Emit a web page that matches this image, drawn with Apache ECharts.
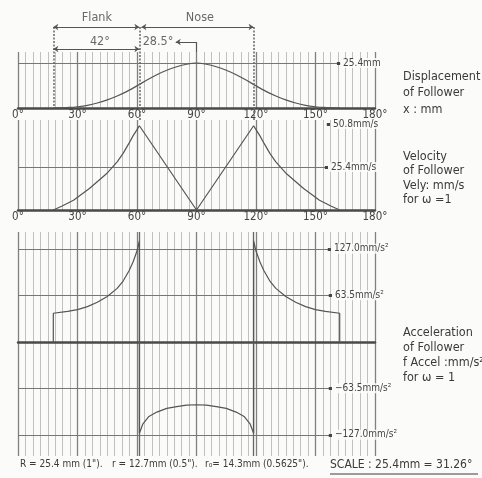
<!DOCTYPE html>
<html><head><meta charset="utf-8">
<script src="https://cdn.jsdelivr.net/npm/echarts@6/dist/echarts.min.js"></script>
<style>html,body{margin:0;padding:0;background:#fbfbfa;}#c{width:482px;height:478px;}</style>
</head><body><div id="c"></div>
<script>
// ---- data ----
const degTicks = [0, 30, 60, 90, 120, 150, 180];
const degLabels = ['0°', '30°', '60°', '90°', '120°', '150°', '180°'];

const flankStart = 17.8, noseStart = 61.2, noseTop = 90, noseEnd = 118.8, flankEnd = 162.2;

const dispDeg = [17.8, 22, 26, 30, 35, 40, 45, 50, 55, 60, 65, 70, 75, 80, 85, 90, 95, 100, 105, 110, 115, 120, 125, 130, 135, 140, 145, 150, 154, 158, 162.2];
const dispMm  = [0, 0.1, 0.3, 0.7, 1.5, 2.8, 4.6, 6.8, 9.4, 12.5, 15.8, 18.8, 21.3, 23.3, 24.7, 25.4, 24.7, 23.3, 21.3, 18.8, 15.8, 12.5, 9.4, 6.8, 4.6, 2.8, 1.5, 0.7, 0.3, 0.1, 0];

const velDeg = [17.8, 22, 28, 36, 44.6, 50, 53, 56, 58, 60, 61.2, 90, 118.8, 120, 122, 124, 127, 130, 135.4, 144, 152, 158, 162.2];
const velMm  = [0, 2.2, 5.8, 12.7, 21.4, 28.5, 33.5, 39.5, 43.8, 47.5, 49.8, 0, 49.8, 47.5, 43.8, 39.5, 33.5, 28.5, 21.4, 12.7, 5.8, 2.2, 0];

const accDeg = [17.8, 17.8, 25, 30, 35, 40, 45, 50, 53, 56, 58, 60, 61.2, 61.2, 63, 66, 70, 75, 80, 85, 90, 95, 100, 105, 110, 114, 117, 118.8, 118.8, 120, 122, 124, 127, 130, 135, 140, 145, 150, 155, 162.2, 162.2];
const accMm  = [0, 39, 41.5, 44, 48, 54, 62, 73, 83, 97, 109, 124, 138, -125, -112, -102, -96, -91, -88.5, -86.5, -86, -86.5, -88.5, -91, -96, -102, -112, -125, 138, 124, 109, 97, 83, 73, 62, 54, 48, 44, 41.5, 39, 0];

const dispLevels = [25.4];
const dispLevelLabels = ['25.4mm'];
const velLevels = [50.8, 25.4];
const velLevelLabels = ['50.8mm/s', '25.4mm/s'];
const accLevels = [127, 63.5, -63.5, -127];
const accLevelLabels = ['127.0mm/s²', '63.5mm/s²', '−63.5mm/s²', '−127.0mm/s²'];

const dispTitle = ['Displacement', 'of Follower', 'x : mm'];
const velTitle = ['Velocity', 'of Follower', 'Vely: mm/s', 'for ω =1'];
const accTitle = ['Acceleration', 'of Follower', 'f Accel :mm/s²', 'for ω = 1'];

const footTexts = ['R = 25.4 mm (1").', 'r = 12.7mm (0.5").', 'r₀= 14.3mm (0.5625").', 'SCALE : 25.4mm = 31.26°'];

// ---- layout / style ----
const FONT = "'DejaVu Sans Condensed', 'Liberation Sans Narrow', 'DejaVu Sans', sans-serif";
const INK = '#4a4a4a';
const G = { left: 18, width: 357 };

function zip(a, b) { return a.map((v, i) => [v, b[i]]); }

function xAx(gi, labels) {
  return {
    type: 'value', gridIndex: gi, min: 0, max: 180, interval: 30,
    axisLine: { show: true, onZero: true, lineStyle: { color: INK, width: 2.5 } },
    axisTick: { show: false },
    axisLabel: { show: labels, margin: 1, fontSize: 11.5, color: '#444', fontFamily: FONT,
      showMinLabel: true, showMaxLabel: true,
      formatter: v => { const i = degTicks.indexOf(v); return i >= 0 ? degLabels[i] : ''; } },
    splitLine: { show: true, lineStyle: { color: '#808080', width: 1.3 } },
    minorTick: { show: false, splitNumber: 8 },
    minorSplitLine: { show: true, lineStyle: { color: '#c0c0c0', width: 1 } }
  };
}
function yAx(gi, min, max) {
  return { type: 'value', gridIndex: gi, min: min, max: max, show: false, splitLine: { show: false } };
}
function levelMarks(levels, labels, endDeg, dashOnly) {
  const data = [];
  levels.forEach((lev, i) => {
    if (!(dashOnly && dashOnly[i])) {
      data.push([{ coord: [0, lev], lineStyle: { color: '#777', width: 1, type: 'solid' }, label: { show: false } }, { coord: [endDeg[i], lev] }]);
    }
    data.push([{ coord: [endDeg[i] - 1.6, lev], lineStyle: { color: '#444', width: 3, type: 'solid' },
      label: { show: true, position: 'end', distance: 2, formatter: labels[i], fontSize: 10, fontFamily: FONT, color: '#444',
        backgroundColor: 'rgba(251,251,250,0.85)', padding: [0, 1] } }, { coord: [endDeg[i], lev] }]);
  });
  return { silent: true, symbol: 'none', animation: false, lineStyle: { type: 'solid' }, data: data };
}
const curveStyle = { color: '#555', width: 1.2 };

const option = {
  backgroundColor: '#fbfbfa',
  animation: false,
  grid: [
    { left: G.left, width: G.width, top: 52, height: 56 },
    { left: G.left, width: G.width, top: 120, height: 90 },
    { left: G.left, width: G.width, top: 232, height: 224 },
    { left: G.left, width: G.width, top: 12, height: 110 }
  ],
  xAxis: [xAx(0, true), xAx(1, true), xAx(2, false),
    { type: 'value', gridIndex: 3, min: 0, max: 180, show: false }],
  yAxis: [yAx(0, 0, 31.6), yAx(1, 0, 53.2), yAx(2, -156, 150),
    { type: 'value', gridIndex: 3, min: 0, max: 110, inverse: true, show: false }],
  series: [
    { type: 'line', xAxisIndex: 0, yAxisIndex: 0, data: zip(dispDeg, dispMm), smooth: 0.3,
      symbol: 'none', lineStyle: curveStyle, z: 5,
      markLine: levelMarks(dispLevels, dispLevelLabels, [162.4]) },
    { type: 'line', xAxisIndex: 1, yAxisIndex: 1, data: zip(velDeg, velMm), smooth: false,
      symbol: 'none', lineStyle: curveStyle, z: 5,
      markLine: levelMarks(velLevels, velLevelLabels, [157.3, 156.3], [true, false]) },
    { type: 'line', xAxisIndex: 2, yAxisIndex: 2, data: zip(accDeg, accMm), smooth: false,
      symbol: 'none', lineStyle: curveStyle, z: 5,
      markLine: (function () {
        const m = levelMarks(accLevels, accLevelLabels, [157.8, 158.3, 158.3, 158.3]);
        m.data.push([{ coord: [noseStart, -156], lineStyle: { color: '#666', width: 1.3, type: 'solid' }, label: { show: false } }, { coord: [noseStart, 150] }]);
        m.data.push([{ coord: [noseEnd, -156], lineStyle: { color: '#666', width: 1.3, type: 'solid' }, label: { show: false } }, { coord: [noseEnd, 150] }]);
        return m;
      })() },
    // dashed construction lines
    { type: 'lines', coordinateSystem: 'cartesian2d', xAxisIndex: 3, yAxisIndex: 3, symbol: 'none', silent: true, z: 6,
      lineStyle: { color: '#666', width: 1.5, type: [2, 1.5], opacity: 1 },
      data: [{ coords: [[flankStart, 15], [flankStart, 96]] }, { coords: [[noseStart, 15], [noseStart, 108]] }, { coords: [[noseEnd, 15], [noseEnd, 108]] }] },
    // dimension lines
    { type: 'lines', coordinateSystem: 'cartesian2d', xAxisIndex: 3, yAxisIndex: 3, symbol: ['arrow', 'arrow'], symbolSize: 5, silent: true, z: 6,
      lineStyle: { color: '#555', width: 1, opacity: 1 },
      data: [{ coords: [[flankStart, 15], [noseStart, 15]] }, { coords: [[noseStart + 1, 15], [noseEnd, 15]] }, { coords: [[flankStart, 37], [noseStart, 37]] }] },
    { type: 'lines', coordinateSystem: 'cartesian2d', xAxisIndex: 3, yAxisIndex: 3, symbol: ['none', 'arrow'], symbolSize: 5, silent: true, z: 6,
      lineStyle: { color: '#555', width: 1, opacity: 1 },
      data: [{ coords: [[noseTop, 30], [79.5, 30]] }] },
    { type: 'lines', coordinateSystem: 'cartesian2d', xAxisIndex: 3, yAxisIndex: 3, symbol: 'none', silent: true, z: 6,
      lineStyle: { color: '#555', width: 1.2, opacity: 1 },
      data: [{ coords: [[noseTop, 30], [noseTop, 40]] }] },
    // annotation texts
    { type: 'scatter', xAxisIndex: 3, yAxisIndex: 3, symbolSize: 0, silent: true, z: 7,
      label: { show: true, position: 'inside', formatter: p => p.data[2], fontSize: 12.5, fontFamily: FONT, color: '#444' },
      data: [[39.8, 6, 'Flank'], [91.7, 6, 'Nose'], [41.3, 30, '42°'], [70.6, 30, '28.5°']] }
  ],
  graphic: []
};

function addBlock(lines, top, step) {
  lines.forEach((t, i) => option.graphic.push({ type: 'text', left: 403, top: top + i * step, silent: true,
    style: { text: t, font: '12.5px ' + FONT, fill: '#3a3a3a' } }));
}
addBlock(dispTitle, 70, 16.5);
addBlock(velTitle, 150, 14.5);
addBlock(accTitle, 326, 15);

const footX = [20, 112, 205, 330];
footTexts.forEach((t, i) => option.graphic.push({ type: 'text', left: footX[i], top: 459, silent: true,
  style: { text: t, font: (i === 3 ? 12 : 10) + 'px ' + FONT, fill: '#3a3a3a' } }));
option.graphic.push({ type: 'line', silent: true, shape: { x1: 330, y1: 474, x2: 478, y2: 474 }, style: { stroke: '#3a3a3a', lineWidth: 1 } });

const chart = echarts.init(document.getElementById('c'), null, { renderer: 'canvas' });
chart.setOption(option);
</script></body></html>
